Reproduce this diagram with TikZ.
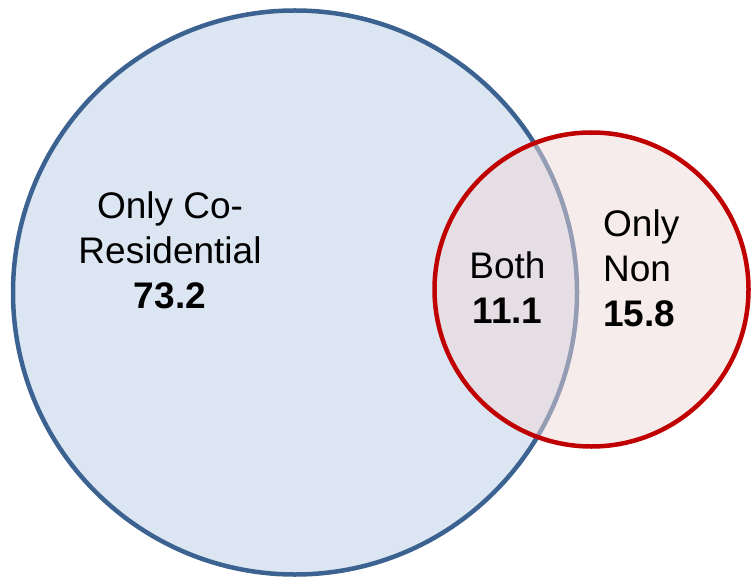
\documentclass[tikz,border=0pt]{standalone}
\usepackage{fontspec}
\setmainfont{Liberation Sans}
\definecolor{blueline}{RGB}{60,98,145}
\definecolor{bluefill}{RGB}{220,230,242}
\definecolor{redline}{RGB}{192,0,0}
\definecolor{redfill}{RGB}{239,217,217}
\tikzset{
  setblue/.style={draw=blueline, fill=bluefill, line width=4.5pt},
  setred/.style={draw=redline, fill=redfill, fill opacity=0.5, draw opacity=1, line width=4.5pt},
  lbl/.style={inner sep=0pt, font=\fontsize{37}{45}\selectfont, anchor=base, text opacity=1}
}
\begin{document}
\begin{tikzpicture}[x=1pt,y=1pt]
\useasboundingbox (0,0) rectangle (751,579);
\draw[setblue] (295,286.5) circle[radius=282];
\draw[setred] (591.5,289.5) circle[radius=157];
\node[lbl, align=center] (co) at (170,271) {Only Co-\\Residential\\\textbf{73.2}};
\node[lbl, align=center] (both) at (507.5,256) {Both\\\textbf{11.1}};
\node[lbl, align=left, anchor=base west] (non) at (603,253) {Only\\Non\\\textbf{15.8}};
\end{tikzpicture}
\end{document}
